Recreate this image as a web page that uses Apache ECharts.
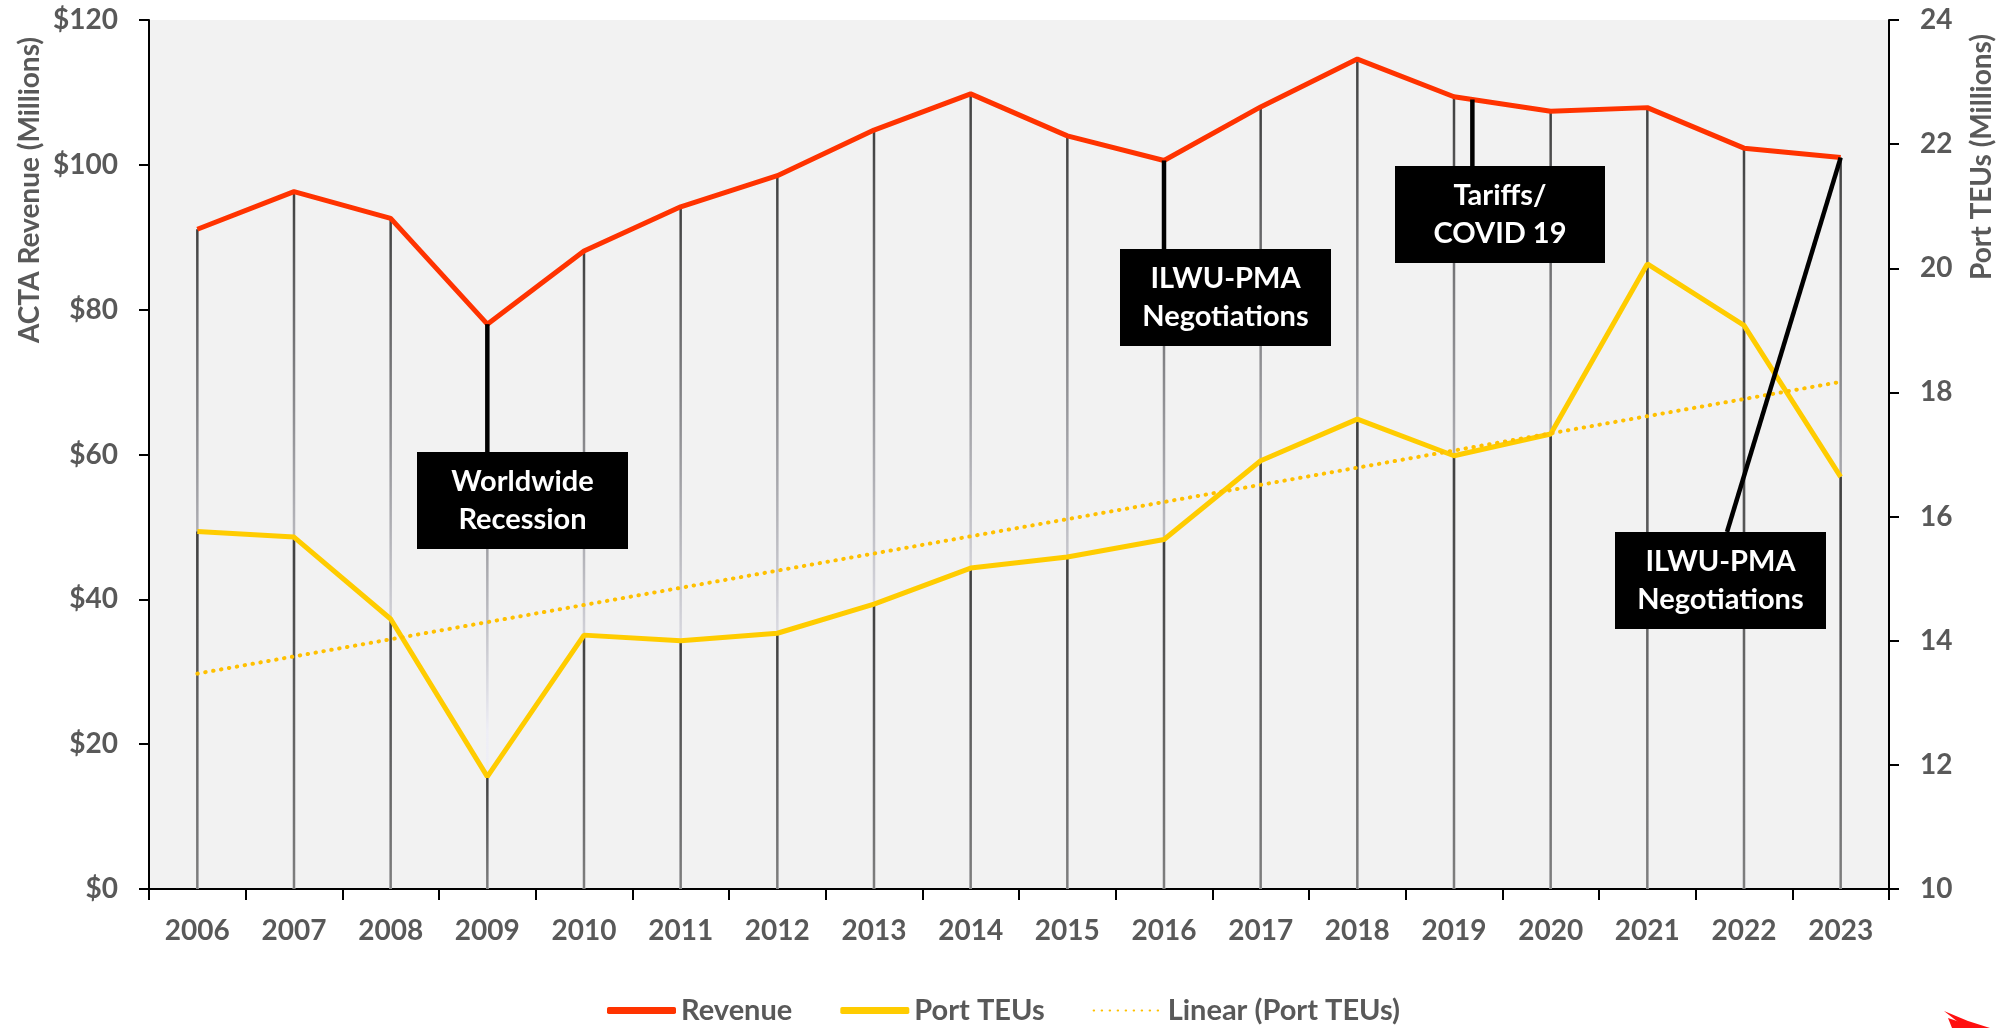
<!DOCTYPE html>
<html><head><meta charset="utf-8">
<script src="https://cdn.jsdelivr.net/npm/echarts@6/dist/echarts.min.js"></script>
<style>html,body{margin:0;padding:0;background:#fff}#c{width:2008px;height:1028px}</style>
</head><body><div id="c"></div>
<script>
// ---- data ----
const years = ['2006','2007','2008','2009','2010','2011','2012','2013','2014','2015','2016','2017','2018','2019','2020','2021','2022','2023'];
const revenue = [91.1,96.3,92.6,78.0,88.1,94.2,98.5,104.8,109.8,104.0,100.6,108.0,114.6,109.4,107.4,107.9,102.3,101.0];
const teus = [15.76,15.67,14.35,11.81,14.09,14.00,14.12,14.59,15.17,15.35,15.63,16.90,17.57,16.98,17.33,20.07,19.08,16.64];
const trendStart = 13.47;
const trendEnd = 18.17;
const revenueAxis = {min:0, max:120, interval:20};
const teuAxis = {min:10, max:24, interval:2};
const notes = [
  {text:'Worldwide\nRecession', from:3, frac:0, box:[417,452,211,97], boxX:null},
  {text:'ILWU-PMA\nNegotiations', from:10, frac:0, box:[1120,249,211,97], boxX:null},
  {text:'Tariffs/\nCOVID 19', from:13, frac:0.19, box:[1395,166,210,97], boxX:null},
  {text:'ILWU-PMA\nNegotiations', from:17, frac:0, box:[1615,532,211,97], boxX:1727}
];

const FONT = 'Lato, "Open Sans", sans-serif';
const GREY = '#595959';
const trend = years.map((y,i)=> i===0 ? trendStart : (i===years.length-1 ? trendEnd : null));

function dropRender(baseVal, stops){
  return function(params, api){
    const idx = api.value(0), v = api.value(1);
    const p = api.coord([idx, v]);
    const b = api.coord([idx, baseVal]);
    return {type:'rect', silent:true,
      shape:{x:p[0]-1.25, y:p[1], width:2.5, height:b[1]-p[1]},
      style:{fill:new echarts.graphic.LinearGradient(0,0,0,1,stops)}};
  };
}

const chart = echarts.init(document.getElementById('c'), null, {renderer:'canvas'});
const axisLbl = {fontFamily:FONT, fontWeight:'bold', fontSize:28, color:GREY};
chart.setOption({
  animation:false,
  backgroundColor:'#ffffff',
  grid:{left:149, right:119, top:20, bottom:139, show:true, backgroundColor:'#F2F2F2', borderWidth:0},
  legend:{
    left:607, top:996, itemWidth:69, itemHeight:7, itemGap:48, padding:0,
    textStyle:{fontFamily:FONT, fontWeight:'bold', fontSize:29, color:GREY},
    data:[{name:'Revenue', icon:'roundRect'},{name:'Port TEUs', icon:'roundRect'},
          {name:'Linear (Port TEUs)', itemStyle:{opacity:0}}]
  },
  xAxis:{type:'category', data:years, boundaryGap:true,
    axisLine:{lineStyle:{color:'#000', width:2}},
    axisTick:{show:true, length:11, lineStyle:{color:'#000', width:2}},
    axisLabel:Object.assign({margin:28, interval:0}, axisLbl),
    splitLine:{show:false}},
  yAxis:[
    {type:'value', min:revenueAxis.min, max:revenueAxis.max, interval:revenueAxis.interval,
     axisLine:{show:true, lineStyle:{color:'#000', width:2}},
     axisTick:{show:true, length:10, lineStyle:{color:'#000', width:2}},
     axisLabel:Object.assign({margin:31, formatter:'${value}'}, axisLbl),
     splitLine:{show:false}},
    {type:'value', position:'right', min:teuAxis.min, max:teuAxis.max, interval:teuAxis.interval,
     axisLine:{show:true, lineStyle:{color:'#000', width:2}},
     axisTick:{show:true, length:10, lineStyle:{color:'#000', width:2}},
     axisLabel:Object.assign({margin:31}, axisLbl),
     splitLine:{show:false}}
  ],
  series:[
    {type:'custom', name:'revDrop', yAxisIndex:0, z:1, silent:true,
     data:revenue.map((v,i)=>[i,v]), encode:{x:0,y:1},
     renderItem:dropRender(revenueAxis.min,[{offset:0,color:'#404040'},{offset:0.72,color:'#EEEEF6'},{offset:1,color:'#EEEEF6'}])},
    {type:'custom', name:'teuDrop', yAxisIndex:1, z:2, silent:true,
     data:teus.map((v,i)=>[i,v]), encode:{x:0,y:1},
     renderItem:dropRender(teuAxis.min,[{offset:0,color:'#404040'},{offset:1,color:'#7F7F7F'}])},
    {type:'line', name:'Linear (Port TEUs)', yAxisIndex:1, z:4, data:trend, connectNulls:true, symbol:'none',
     lineStyle:{color:'#FFC000', width:4, type:[0.5,7.5], cap:'round'}, itemStyle:{color:'#FFC000'}},
    {type:'line', name:'Port TEUs', yAxisIndex:1, z:3, data:teus, symbol:'none',
     lineStyle:{color:'#FFCC00', width:5}, itemStyle:{color:'#FFCC00'}},
    {type:'line', name:'Revenue', yAxisIndex:0, z:5, data:revenue, symbol:'none',
     lineStyle:{color:'#FF3300', width:5}, itemStyle:{color:'#FF3300'}}
  ]
});

// ---- annotations & titles ----
const g = [];
notes.forEach(n=>{
  const a = chart.convertToPixel({xAxisIndex:0, yAxisIndex:0}, [n.from, revenue[n.from]]);
  let p = a;
  if (n.frac) {
    const b = chart.convertToPixel({xAxisIndex:0, yAxisIndex:0}, [n.from+1, revenue[n.from+1]]);
    p = [a[0]+(b[0]-a[0])*n.frac, a[1]+(b[1]-a[1])*n.frac];
  }
  const [bx, by, bw, bh] = n.box;
  const ex = n.boxX == null ? p[0] : n.boxX;
  g.push({type:'line', z:100, silent:true, shape:{x1:p[0], y1:p[1], x2:ex, y2:by}, style:{stroke:'#000', lineWidth:4.5}});
  g.push({type:'rect', z:101, silent:true, shape:{x:bx, y:by, width:bw, height:bh}, style:{fill:'#000'}});
  g.push({type:'text', z:102, silent:true, x:bx+bw/2, y:by+bh/2,
    style:{text:n.text, fill:'#fff', font:'bold 29px '+FONT, align:'center', verticalAlign:'middle', lineHeight:38}});
});
g.push({type:'text', silent:true, x:30, y:190, rotation:Math.PI/2,
  style:{text:'ACTA Revenue (Millions)', fill:GREY, font:'bold 28px '+FONT, align:'center', verticalAlign:'middle'}});
g.push({type:'text', silent:true, x:1982, y:157, rotation:Math.PI/2,
  style:{text:'Port TEUs (Millions)', fill:GREY, font:'bold 28px '+FONT, align:'center', verticalAlign:'middle'}});
// small red logo mark in corner
g.push({type:'polygon', silent:true, shape:{points:[[1944,1011],[1968,1021],[1990,1028],[1962,1028],[1958,1022]]}, style:{fill:'#FF1010'}});
g.push({type:'polygon', silent:true, shape:{points:[[1948,1018],[1966,1024],[1972,1028],[1952,1028]]}, style:{fill:'#FF1010'}});
chart.setOption({graphic:g});
</script>
</body></html>
